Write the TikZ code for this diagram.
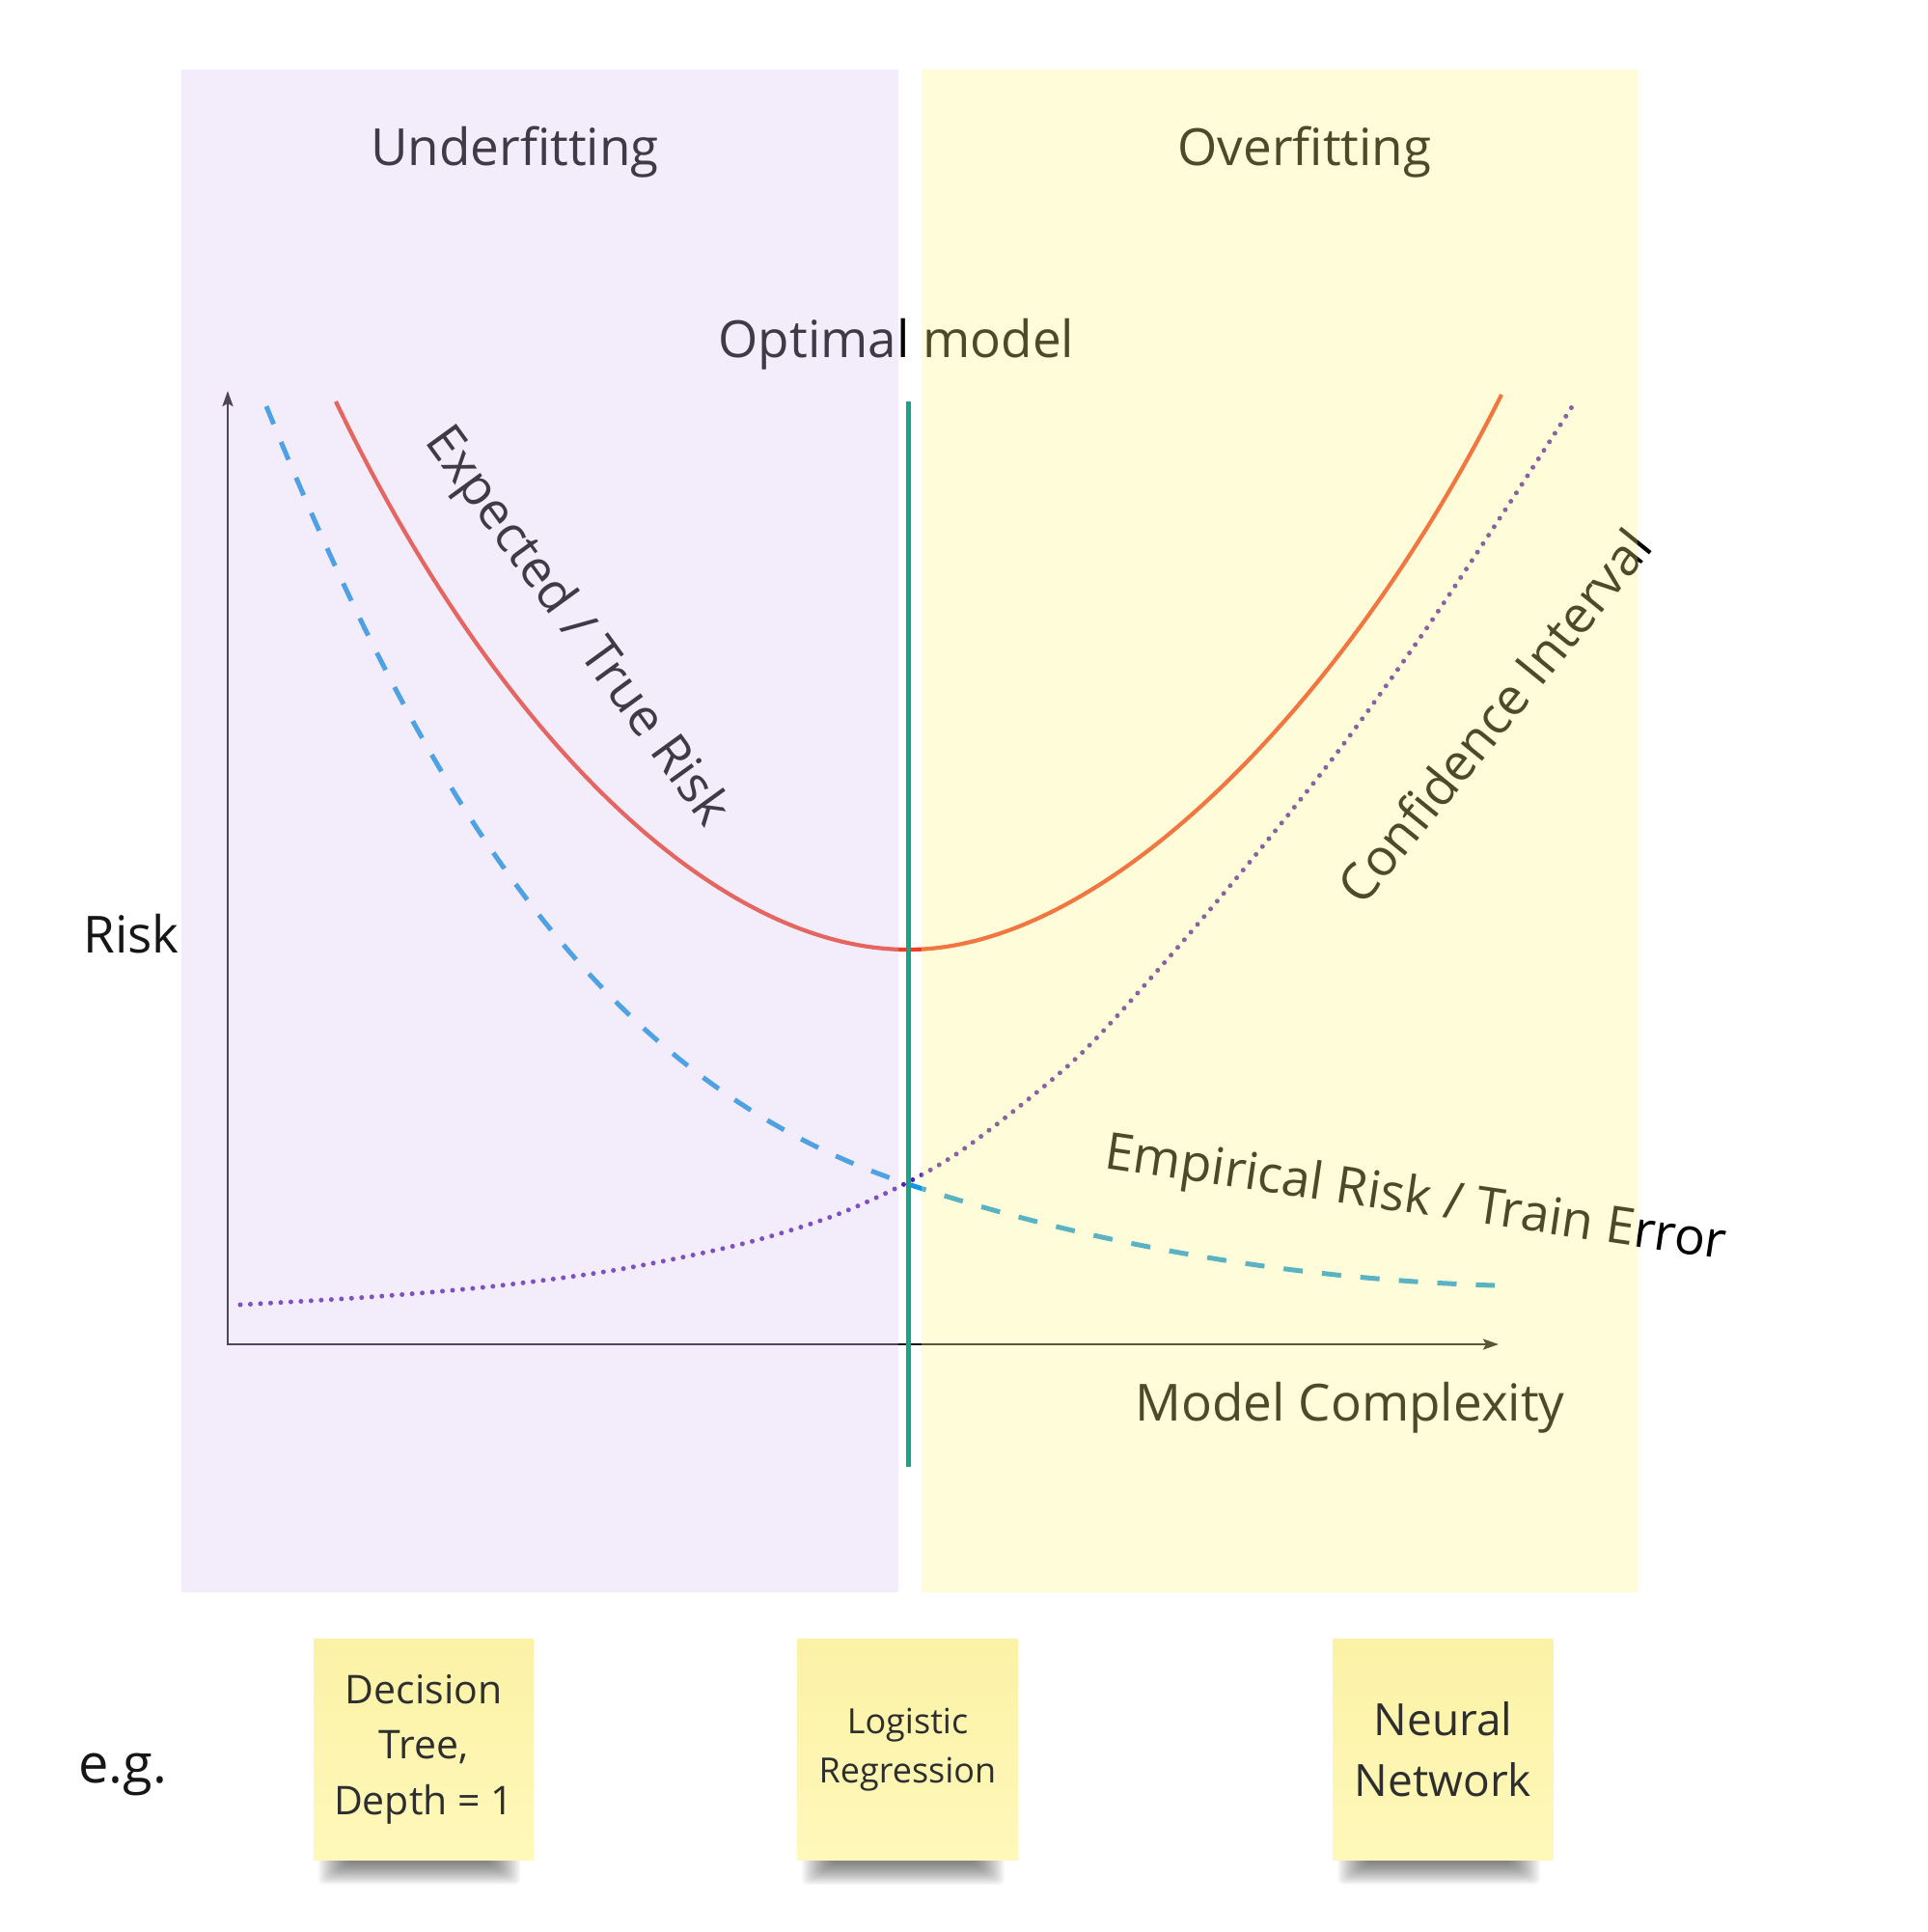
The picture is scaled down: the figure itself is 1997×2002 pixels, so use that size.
\documentclass[tikz,border=0pt]{standalone}
\usepackage{fontspec}
\setmainfont{Open Sans}
\usetikzlibrary{arrows.meta,calc,backgrounds}
\definecolor{txt}{RGB}{0,0,0}
\definecolor{plaintxt}{RGB}{22,22,22}
\definecolor{notetxt}{RGB}{46,46,46}
\definecolor{purpP}{RGB}{215,192,238}
\definecolor{yelP}{RGB}{255,248,128}
\definecolor{riskred}{RGB}{236,62,36}
\definecolor{empblue}{RGB}{20,150,225}
\definecolor{cidot}{RGB}{88,32,176}
\definecolor{optgreen}{RGB}{23,165,137}
\definecolor{axiscol}{RGB}{20,16,26}
\definecolor{noteT}{RGB}{252,242,166}
\definecolor{noteB}{RGB}{254,248,186}
\newcommand{\noteshadow}[1]{%
  \begin{scope}[on background layer]
    \foreach \k in {1,...,16}{
      \fill[black, fill opacity=0.04, rounded corners=6pt]
        ($(#1.south west)+(3+2*\k,-10)$) rectangle ($(#1.south east)+(-12-2*\k,27-1.5*\k)$);
    }
  \end{scope}}
\begin{document}
\begin{tikzpicture}[x=1pt,y=-1pt,
  lbl/.style={font=\fontsize{53}{64}\selectfont, text=txt, inner sep=0pt},
  sticky/.style={minimum width=228pt, minimum height=229pt, inner sep=0pt,
    align=center, text=notetxt, top color=noteT, bottom color=noteB, draw=none},
  curve/.style={line width=4.2pt, riskred},
  empcurve/.style={line width=5pt, empblue, dash pattern=on 20pt off 20pt},
  cicurve/.style={line width=5pt, cidot, line cap=round, dash pattern=on 0pt off 10.5pt},
  axisline/.style={line width=2.6pt, axiscol},
  panel/.style={fill opacity=0.3}]
\useasboundingbox (0,0) rectangle (1997,2002);

% axes
\coordinate (O) at (236,1393);
\coordinate (ytop) at (236,405);
\coordinate (xend) at (1553,1393);
\draw[axisline, {Stealth[length=16pt,width=11pt,inset=3pt]}-{Stealth[length=16pt,width=11pt,inset=3pt]}] (ytop) -- (O) -- (xend);

% expected / true risk
\coordinate (r0) at (348,416);
\coordinate (rmin) at (941,984);
\coordinate (r1) at (1556,409);
\draw[curve] (r0) .. controls (508,750) and (735,984) .. (rmin)
                  .. controls (1150,984) and (1400,720) .. (r1);
% empirical risk
\coordinate (e0) at (276,421);
\coordinate (ex) at (941,1227);
\coordinate (e1) at (1549,1332);
\draw[empcurve] (e0) .. controls (436,813) and (611,1118) .. (ex)
                     .. controls (1141,1293) and (1349,1326) .. (e1);
% confidence interval
\draw[cicurve] plot[smooth] coordinates {(249,1352) (383,1344) (510,1333) (638,1316) (765,1290) (861,1261) (941,1225) (1008,1184) (1116,1096) (1208,996) (1297,891) (1386,779.5) (1476,654.5) (1565,520.5) (1630,420)};

% optimal model line
\coordinate (gtop) at (941,416);
\coordinate (gbot) at (941,1520);
\draw[line width=5pt, optgreen] (gtop) -- (gbot);

% labels
\node[lbl, anchor=base] (under) at (533.5,171) {Underfitting};
\node[lbl, anchor=base] (over) at (1352,171) {Overfitting};
\node[lbl, anchor=base] (opt) at (929,370) {Optimal model};
\node[lbl, anchor=base] (mc) at (1399,1472) {Model Complexity};
\node[lbl, rotate=-54] (etr) at (596,650) {Expected / True Risk};
\node[lbl, rotate=51] (ci) at (1548,742) {Confidence Interval};
\node[lbl, rotate=-8.4] (emp) at (1467,1244) {Empirical Risk / Train Error};

% translucent panels laid over the chart
\fill[purpP, panel] (188,72) rectangle (931,1650);
\fill[yelP, panel] (955,72) rectangle (1697,1650);

\node[lbl, text=plaintxt, anchor=base] (risk) at (136,987) {Risk};
\node[lbl, text=plaintxt, font=\fontsize{56}{66}\selectfont, anchor=base] (eg) at (127.5,1847) {e.g.};

% sticky notes
\node[sticky, font=\fontsize{41}{57.5}\selectfont] (dt) at (439,1812.5) {Decision\\Tree,\\Depth = 1};
\node[sticky, font=\fontsize{36}{51}\selectfont] (lr) at (940.5,1813) {Logistic\\Regression};
\node[sticky, font=\fontsize{46}{63}\selectfont] (nn) at (1495.5,1812.5) {Neural\\Network};
\noteshadow{dt}
\noteshadow{lr}
\noteshadow{nn}
\end{tikzpicture}
\end{document}
